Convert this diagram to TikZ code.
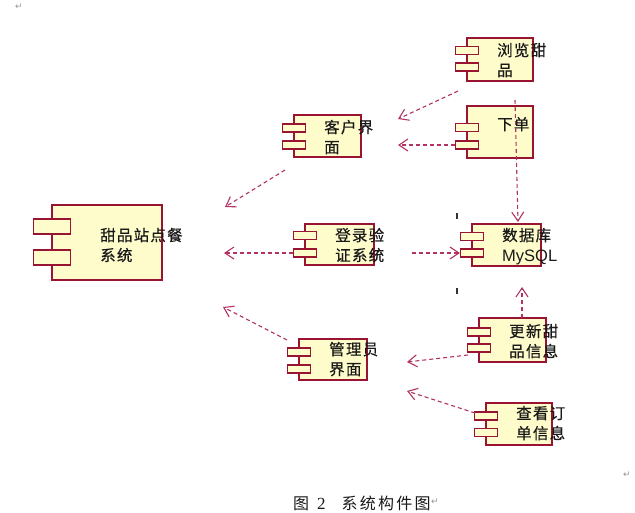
\documentclass[tikz,border=0pt]{standalone}
\usepackage{fontspec}
\setmainfont{Liberation Serif}
\newfontfamily\cjk[LetterSpace=8,FakeBold=0.4]{Noto Sans CJK SC}
\newfontfamily\cjkcap[LetterSpace=14]{Noto Sans CJK SC}
\newfontfamily\latsans{Liberation Sans}
\newfontfamily\symf{DejaVu Sans}
\usetikzlibrary{arrows.meta}
\definecolor{bordc}{RGB}{153,20,51}
\definecolor{fillc}{RGB}{255,252,204}
\definecolor{arrc}{RGB}{178,50,100}
\definecolor{txtc}{RGB}{25,25,25}
\definecolor{markc}{RGB}{150,150,150}
\tikzset{
  compbox/.style={draw=bordc, fill=fillc, line width=1.2pt, inner sep=0pt, rectangle},
  stubbox/.style={draw=bordc, fill=fillc, line width=1.1pt, inner sep=0pt, minimum width=23pt, minimum height=8pt},
  bigstub/.style={draw=bordc, fill=fillc, line width=1.2pt, inner sep=0pt, minimum width=37pt, minimum height=15pt},
  comptext/.style={anchor=base west, align=left, inner sep=0pt, text=txtc, font={\cjk\fontsize{15.5}{20}\selectfont}},
  dep/.style={draw=arrc, line width=1.1pt, dash pattern=on 4pt off 3pt, -{Straight Barb[length=9pt,width=12pt,line width=1.1pt]}},
  tickmark/.style={draw=black!80, line width=1.3pt},
  retmark/.style={inner sep=0pt, text=markc, font={\symf\fontsize{9}{10}\selectfont}}
}
% #8 = baseline of the LAST text line
\newcommand\comp[9]{%
  \node[compbox, minimum width={(#4-#2)*1pt}, minimum height={(#5-#3)*1pt}] (#1) at ({(#2+#4)/2},{(#3+#5)/2}) {};
  \node[stubbox] (#1-s1) at (#2,#6) {};
  \node[stubbox] (#1-s2) at (#2,#7) {};
  \node[comptext] (#1-t) at ({#2+30},#8) {#9};
}
\begin{document}
\begin{tikzpicture}[x=1pt,y=-1pt]
\useasboundingbox (0,0) rectangle (635,512);
\fill[white] (0,0) rectangle (635,512);

% main system component
\node[compbox, minimum width=110pt, minimum height=75pt] (main) at (107,242.5) {};
\node[bigstub] (main-s1) at (52,226.5) {};
\node[bigstub] (main-s2) at (52,257.5) {};
\node[comptext] (main-t) at (100,261) {甜品站点餐\\系统};

\comp{browse}{467}{38}{533}{81}{50.5}{67}{76}{浏览甜\\品}
\comp{order}{467}{106}{533}{158}{127.5}{145}{130}{下单}
\comp{cust}{294}{115}{361}{157}{128}{145}{153}{客户界\\面}
\comp{login}{305}{224}{374}{265}{235.5}{253}{261}{登录验\\证系统}
\comp{admin}{299}{339}{367}{380}{352}{369}{375}{管理员\\界面}
\comp{db}{472}{224}{541}{266}{236.5}{253}{261}{数据库\\{\latsans\fontsize{16.5}{20}\selectfont MySQL}}
\comp{update}{479}{318}{546}{362}{332}{348}{357}{更新甜\\品信息}
\comp{view}{486}{403}{552}{445}{416}{432.5}{439}{查看订\\单信息}

% free ends of the dependency arrows
\coordinate (a1s) at (458,91);   \coordinate (a1e) at (398,119);
\coordinate (a2e) at (398,145);
\coordinate (a3s) at (515,100);  \coordinate (a3e) at (518,222);
\coordinate (a4s) at (285,170);  \coordinate (a4e) at (225,207);
\coordinate (a5e) at (224,253);
\coordinate (a6s) at (412,253);
\coordinate (a7s) at (287,340);  \coordinate (a7e) at (223,307);
\coordinate (a8s) at (522,318);  \coordinate (a8e) at (522,287);
\coordinate (a9s) at (468,355);  \coordinate (a9e) at (407,362);
\coordinate (a10s) at (475,413); \coordinate (a10e) at (407,391);

\draw[dep] (a1s) -- (a1e);
\draw[dep] (order-s2.west) -- (a2e);
\draw[dep] (a3s) -- (a3e);
\draw[dep] (a4s) -- (a4e);
\draw[dep] (login-s2.west) -- (a5e);
\draw[dep] (a6s) -- (db-s2.west);
\draw[dep] (a7s) -- (a7e);
\draw[dep] (a8s) -- (a8e);
\draw[dep] (a9s) -- (a9e);
\draw[dep] (a10s) -- (a10e);

% small tick marks
\coordinate (k1a) at (457,213); \coordinate (k1b) at (457,219);
\coordinate (k2a) at (457,288); \coordinate (k2b) at (457,294);
\draw[tickmark] (k1a) -- (k1b);
\draw[tickmark] (k2a) -- (k2b);

% paragraph marks
\node[retmark] (r1) at (19,7) {↵};
\node[retmark] (r2) at (627,475) {↵};

% caption
\node[anchor=base west, inner sep=0pt, text=txtc, font={\cjkcap\fontsize{16}{18}\selectfont}] (cap) at (293,509) {图{\rmfamily\fontsize{17}{18}\selectfont\hspace{8pt}2\hspace{16pt}}系统构件图};
\node[retmark, anchor=west] (r3) at ([xshift=0pt,yshift=1pt]cap.east) {↵};
\end{tikzpicture}
\end{document}
